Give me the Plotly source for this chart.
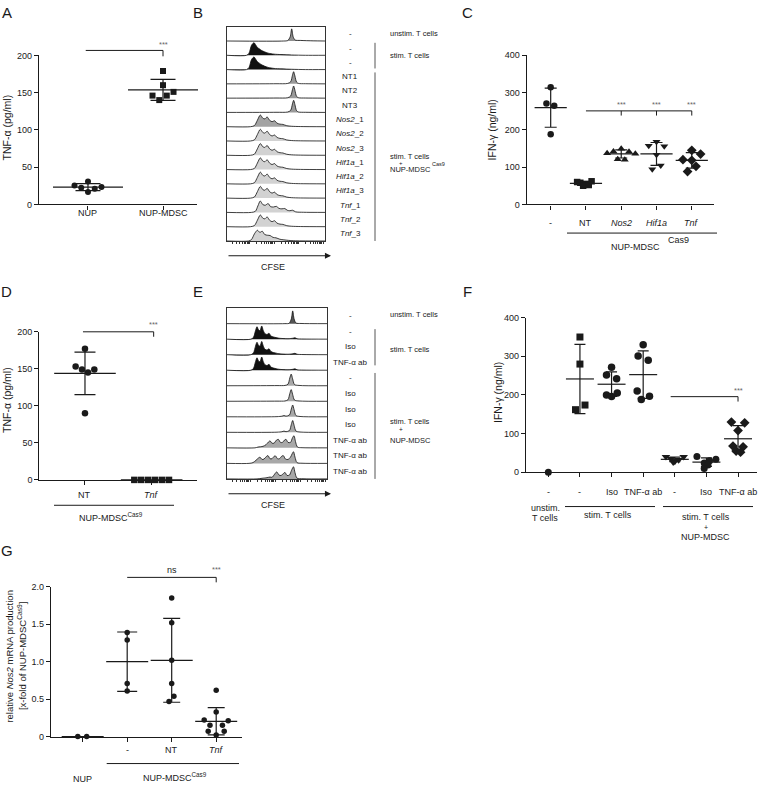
import numpy as np
import plotly.graph_objects as go

W, H = 760, 788
FONT = "Liberation Sans, Arial, Helvetica, sans-serif"
INK = "#1a1a1a"
STAR = "#666666"

# ============================ DATA ============================
# Panel A  TNF-alpha (pg/ml)
A_categories = ["NUP", "NUP-MDSC"]
A_nup = [25.5, 22.5, 30.8, 16.7, 21.0, 23.3]
A_nup_mdsc = [179, 160, 146, 140, 146, 151]
A_yticks = [0, 50, 100, 150, 200]

# Panel C  IFN-gamma (ng/ml)
C_categories = ["-", "NT", "<i>Nos2</i>", "<i>Hif1a</i>", "<i>Tnf</i>"]
C_ctrl = [314, 270, 264, 188]
C_nt = [62, 58, 55, 50, 52, 60]
C_nos2 = [149, 142, 141, 137, 136, 121, 120]
C_hif1a = [168, 157, 156, 133, 104, 94]
C_tnf = [145, 135, 120, 118, 102, 88]
C_yticks = [0, 100, 200, 300, 400]

# Panel D  TNF-alpha (pg/ml)
D_categories = ["NT", "<i>Tnf</i>"]
D_nt = [177, 153, 149, 145, 149, 90]
D_tnf = [0, 0, 0, 0, 0, 0]
D_yticks = [0, 50, 100, 150, 200]

# Panel F  IFN-gamma (ng/ml)
F_categories = ["-", "-", "Iso", "TNF-α ab", "-", "Iso", "TNF-α ab"]
F_unstim = [0]
F_stim = [350, 280, 174, 162]
F_stim_iso = [272, 252, 242, 200, 196, 205]
F_stim_tnfab = [330, 301, 290, 210, 188, 197]
F_mdsc = [40, 40, 35, 32, 28, 26]
F_mdsc_iso = [41, 34, 30, 24, 19, 10]
F_mdsc_tnfab = [130, 128, 108, 68, 66, 55, 52]
F_yticks = [0, 100, 200, 300, 400]

# Panel G  relative Nos2 mRNA
G_categories = ["", "-", "NT", "<i>Tnf</i>"]
G_nup = [0, 0]
G_ctrl = [1.39, 1.29, 0.71, 0.61]
G_nt = [1.85, 1.52, 1.02, 0.71, 0.54, 0.47]
G_tnf = [0.62, 0.33, 0.22, 0.21, 0.15, 0.15, 0.07, 0.07, 0.02]
G_yticks = [0, 0.5, 1.0, 1.5, 2.0]
G_yticktext = ["0", "0.5", "1.0", "1.5", "2.0"]

# Histogram profiles (CFSE position 0-100, relative count 0-1)
B_UNSTIM = [(0, 0), (58, 0), (62, 0.03), (64.5, 0.3), (66, 0.85), (67.5, 0.3), (69.5, 0.07), (75, 0.04), (88, 0.01), (100, 0)]
B_STIM = [(0, 0), (20, 0), (22.5, 0.15), (25, 0.7), (27.5, 0.88), (29.5, 0.7), (31, 0.55), (33, 0.45), (35, 0.35),
          (38, 0.25), (42, 0.15), (48, 0.08), (55, 0.05), (66, 0.02), (80, 0), (100, 0)]
B_NT = [(0, 0), (50, 0.01), (62, 0.03), (65, 0.15), (66.8, 0.6), (68, 0.85), (69.3, 0.55), (71, 0.12), (73, 0.03), (80, 0.01), (100, 0)]
B_MULTI = [(0, 0), (24, 0), (28, 0.08), (31, 0.45), (34, 0.82), (36.5, 0.6), (38.5, 0.55), (41, 0.68), (43.5, 0.45),
           (46, 0.35), (48.5, 0.42), (51, 0.25), (54, 0.18), (57, 0.16), (61, 0.07), (66, 0.03), (75, 0.01), (100, 0)]
B_TNF1 = [(0, 0), (25, 0), (29, 0.08), (31.5, 0.45), (34, 0.8), (36.5, 0.55), (39, 0.5), (42, 0.62), (44.5, 0.4),
          (47.5, 0.38), (50.5, 0.42), (53, 0.28), (56, 0.25), (59, 0.27), (61.5, 0.15), (64, 0.12), (67, 0.15),
          (70, 0.04), (78, 0.01), (100, 0)]
B_TNF3 = [(0, 0), (22, 0), (25, 0.1), (28, 0.5), (31, 0.75), (33.5, 0.6), (36, 0.68), (38.5, 0.45), (41.5, 0.4),
          (44, 0.38), (47, 0.25), (50, 0.22), (54, 0.12), (58, 0.08), (63, 0.04), (70, 0.01), (100, 0)]

B_row_labels = ["-", "-", "-", "NT1", "NT2", "NT3",
                "<i>Nos2</i>_1", "<i>Nos2</i>_2", "<i>Nos2</i>_3",
                "<i>Hif1a</i>_1", "<i>Hif1a</i>_2", "<i>Hif1a</i>_3",
                "<i>Tnf</i>_1", "<i>Tnf</i>_2", "<i>Tnf</i>_3"]
B_row_profiles = [B_UNSTIM, B_STIM, B_STIM, B_NT, B_NT, B_NT,
                  B_MULTI, B_MULTI, B_MULTI, B_MULTI, B_MULTI, B_MULTI,
                  B_TNF1, B_MULTI, B_TNF3]

E_UNSTIM = [(0, 0), (58, 0), (62, 0.02), (64.3, 0.3), (65.7, 0.82), (67.1, 0.3), (69, 0.04), (74, 0.01), (100, 0)]
E_STIM = [(0, 0), (24, 0), (26.5, 0.12), (28.5, 0.55), (30, 0.8), (31.5, 0.6), (33, 0.55), (34.7, 0.85), (36.3, 0.55),
          (38, 0.35), (40, 0.3), (42, 0.38), (44, 0.2), (46.5, 0.14), (49, 0.1), (52, 0.06), (56, 0.04), (61, 0.03),
          (66, 0.06), (68, 0.09), (70, 0.03), (76, 0.01), (100, 0)]
E_MDSC_A = [(0, 0), (50, 0.01), (58, 0.02), (61, 0.1), (62.8, 0.5), (64.2, 0.75), (65.6, 0.45), (67.5, 0.08), (72, 0.02), (100, 0)]
E_MDSC_B = [(0, 0), (50, 0.01), (55, 0.04), (57, 0.08), (59, 0.04), (62.5, 0.12), (64.3, 0.5), (65.7, 0.76), (67.1, 0.45),
            (69, 0.08), (73, 0.02), (100, 0)]
E_TNF1 = [(0, 0), (28, 0), (31, 0.05), (36, 0.1), (39, 0.2), (41.5, 0.38), (43, 0.45), (45, 0.3), (47, 0.3), (49.5, 0.5),
          (51.3, 0.55), (53.5, 0.35), (55.5, 0.35), (57.5, 0.5), (59, 0.55), (61, 0.35), (63.5, 0.35), (65.5, 0.65),
          (67, 0.78), (68.5, 0.4), (70.5, 0.05), (75, 0.01), (100, 0)]
E_TNF2 = [(0, 0), (22, 0), (26, 0.05), (29, 0.2), (31.5, 0.35), (33, 0.4), (35, 0.25), (37, 0.28), (39.5, 0.45), (41, 0.5),
          (43, 0.3), (45, 0.3), (47, 0.45), (48.5, 0.48), (50.5, 0.3), (52.5, 0.3), (54.5, 0.45), (56.3, 0.5),
          (58.5, 0.28), (61, 0.25), (63.5, 0.4), (65, 0.6), (66.5, 0.75), (68, 0.4), (70, 0.05), (75, 0.01), (100, 0)]
E_TNF3 = [(0, 0), (30, 0), (35, 0.04), (40, 0.08), (43, 0.12), (45, 0.1), (47, 0.25), (49.7, 0.45), (52, 0.25), (54, 0.22),
          (56.5, 0.35), (58, 0.42), (60, 0.22), (62.5, 0.25), (64.5, 0.55), (66.5, 0.78), (68, 0.4), (70, 0.05),
          (76, 0.01), (100, 0)]

E_row_labels = ["-", "-", "Iso", "TNF-α ab", "-", "Iso", "Iso", "Iso", "TNF-α ab", "TNF-α ab", "TNF-α ab"]
E_row_profiles = [E_UNSTIM, E_STIM, E_STIM, E_STIM, E_MDSC_A, E_MDSC_A, E_MDSC_B, E_MDSC_B, E_TNF1, E_TNF2, E_TNF3]

# ============================ STYLE / LAYOUT ============================
B_fills = ["#8f8f8f", "#111111", "#111111", "#9a9a9a", "#9a9a9a", "#9a9a9a",
           "#a3a3a3", "#d2d2d2", "#d2d2d2", "#d2d2d2", "#d2d2d2", "#d2d2d2", "#d2d2d2", "#d2d2d2", "#d2d2d2"]
E_fills = ["#555555", "#111111", "#111111", "#111111", "#a8a8a8", "#a8a8a8", "#a8a8a8", "#a8a8a8",
           "#a8a8a8", "#a8a8a8", "#a8a8a8"]


def fx(p):
    return p / W


def fy(p):
    return 1 - p / H


PANELS = {
    "A": dict(n=1, x=(39, 197), y=(51, 202), xr=(-0.653, 1.453), yr=(0, 200), cats=A_categories,
              yt=A_yticks, ytt=[str(v) for v in A_yticks], laby=210.5),
    "C": dict(n=2, x=(526.7, 714), y=(50.7, 202), xr=(-0.68, 4.63), yr=(0, 400), cats=C_categories,
              yt=C_yticks, ytt=[str(v) for v in C_yticks], laby=220.7),
    "D": dict(n=3, x=(39.3, 197), y=(331, 481), xr=(-0.685, 1.68), yr=(0, 200), cats=D_categories,
              yt=D_yticks, ytt=[str(v) for v in D_yticks], laby=496.7),
    "F": dict(n=4, x=(526, 757), y=(316.7, 473.3), xr=(-0.706, 6.6), yr=(0, 400), cats=F_categories,
              yt=F_yticks, ytt=[str(v) for v in F_yticks], laby=493),
    "G": dict(n=5, x=(51, 241.7), y=(589.3, 741), xr=(-0.712, 3.573), yr=(0, 2.0), cats=G_categories,
              yt=G_yticks, ytt=G_yticktext, laby=755),
}
HIST = {
    "B": dict(n=6, x=(227, 325), y=(22, 239), labels=B_row_labels, profiles=B_row_profiles, fills=B_fills),
    "E": dict(n=7, x=(227, 327), y=(307, 480), labels=E_row_labels, profiles=E_row_profiles, fills=E_fills),
}


def ids(n):
    if n == 1:
        return "x", "y", "xaxis", "yaxis"
    return f"x{n}", f"y{n}", f"xaxis{n}", f"yaxis{n}"


def dx(P, v):
    x0, x1 = P["x"]
    r0, r1 = P["xr"]
    return fx(x0 + (v - r0) / (r1 - r0) * (x1 - x0))


def dy(P, v):
    t, b = P["y"]
    r0, r1 = P["yr"]
    return fy(b - (v - r0) / (r1 - r0) * (b - t))


fig = go.Figure()
axes = {}
shapes = []
annotations = []


def text(xp, yp, s, size=9, xanchor="center", color=INK, angle=0):
    annotations.append(dict(x=xp, y=yp, xref="paper", yref="paper", text=s, showarrow=False,
                            xanchor=xanchor, yanchor="middle", textangle=angle,
                            font=dict(family=FONT, size=size, color=color)))


def pline(x0, y0, x1, y1, w=1.0, color=INK):
    shapes.append(dict(type="line", xref="paper", yref="paper", x0=x0, y0=y0, x1=x1, y1=y1,
                       line=dict(color=color, width=w)))


# ---- dot-plot axes ----
for key, P in PANELS.items():
    xid, yid, xk, yk = ids(P["n"])
    axes[xk] = dict(domain=[fx(P["x"][0]), fx(P["x"][1])], range=list(P["xr"]), anchor=yid,
                    showline=True, linecolor=INK, linewidth=1.2, ticks="outside", ticklen=4, tickwidth=1.1,
                    tickcolor=INK, tickvals=list(range(len(P["cats"]))), showticklabels=False,
                    showgrid=False, zeroline=False, fixedrange=True)
    axes[yk] = dict(domain=[fy(P["y"][1]), fy(P["y"][0])], range=list(P["yr"]), anchor=xid,
                    showline=True, linecolor=INK, linewidth=1.2, ticks="outside", ticklen=4, tickwidth=1.1,
                    tickcolor=INK, tickvals=P["yt"], ticktext=P["ytt"],
                    tickfont=dict(family=FONT, size=9, color=INK),
                    showgrid=False, zeroline=False, fixedrange=True)
    for i, lab in enumerate(P["cats"]):
        if lab:
            annotations.append(dict(x=i, y=fy(P["laby"]), xref=xid, yref="paper", text=lab, showarrow=False,
                                    xanchor="center", yanchor="middle",
                                    font=dict(family=FONT, size=9, color=INK)))


def add_group(P, cat, values, offsets, symbol, size, mean_w, cap_w):
    xid, yid, _, _ = ids(P["n"])
    vals = np.asarray(values, dtype=float)
    if len(vals) > 1:
        m = float(vals.mean())
        s = float(vals.std(ddof=1))
        fig.add_trace(go.Scatter(
            x=[cat], y=[m], mode="markers", xaxis=xid, yaxis=yid, cliponaxis=False, hoverinfo="skip",
            marker=dict(symbol="line-ew", size=mean_w, color=INK, line=dict(width=1.2, color=INK)),
            error_y=dict(type="data", array=[s], visible=s > 0, width=cap_w / 2, thickness=1.2, color=INK)))
    fig.add_trace(go.Scatter(
        x=[cat + o for o in offsets], y=vals, mode="markers", xaxis=xid, yaxis=yid, cliponaxis=False,
        marker=dict(symbol=symbol, size=size, color=INK, line=dict(width=0))))


PA, PC, PD, PF, PG = (PANELS[k] for k in "ACDFG")

# Panel A
add_group(PA, 0, A_nup, [-0.18, -0.09, 0, 0, 0.09, 0.18], "circle", 6, 50, 25)
add_group(PA, 1, A_nup_mdsc, [0, 0, -0.14, -0.05, 0.05, 0.14], "square", 6, 50, 25)
# Panel C
add_group(PC, 0, C_ctrl, [0, -0.12, 0.1, 0], "circle", 6.5, 23, 12)
add_group(PC, 1, C_nt, [0.16, -0.16, 0.0, -0.08, 0.08, -0.25], "square", 6.5, 23, 12)
add_group(PC, 2, C_nos2, [0, -0.22, 0.22, -0.4, 0.4, -0.1, 0.1], "triangle-up", 7, 23, 12)
add_group(PC, 3, C_hif1a, [0, -0.22, 0.22, 0, 0.12, -0.12], "triangle-down", 7, 23, 12)
add_group(PC, 4, C_tnf, [0, 0.25, -0.25, 0, 0.12, -0.12], "diamond", 7.5, 23, 12)
# Panel D
add_group(PD, 0, D_nt, [0, -0.14, -0.045, 0.045, 0.14, 0], "circle", 6.5, 44, 21)
add_group(PD, 1, D_tnf, [-0.26, -0.157, -0.052, 0.052, 0.157, 0.26], "square", 6.5, 44, 21)
# Panel F
add_group(PF, 0, F_unstim, [0], "circle", 7, 20, 11)
add_group(PF, 1, F_stim, [0, 0, 0.16, -0.14], "square", 7, 20, 11)
add_group(PF, 2, F_stim_iso, [0, -0.16, 0.16, -0.16, 0, 0.18], "circle", 7.5, 20, 11)
add_group(PF, 3, F_stim_tnfab, [0, -0.16, 0.16, -0.19, -0.06, 0.2], "circle", 7.5, 20, 11)
add_group(PF, 4, F_mdsc, [-0.28, 0.28, -0.12, 0.12, 0, -0.05], "triangle-down", 7.5, 20, 11)
add_group(PF, 5, F_mdsc_iso, [-0.3, 0.3, 0.1, -0.07, 0.05, -0.07], "circle", 7, 20, 11)
add_group(PF, 6, F_mdsc_tnfab, [-0.21, 0.21, 0, -0.16, 0.16, -0.06, 0.08], "diamond", 7.5, 20, 11)
# Panel G
add_group(PG, 0, G_nup, [-0.11, 0.09], "circle", 5.5, 30, 20)
add_group(PG, 1, G_ctrl, [0, 0, 0, 0], "circle", 5.5, 30, 20)
add_group(PG, 2, G_nt, [0, 0, 0, 0, 0.05, -0.06], "circle", 5.5, 30, 17)
add_group(PG, 3, G_tnf, [0, 0, -0.27, 0.27, -0.14, 0.14, -0.18, 0.18, 0], "circle", 5.5, 30, 17)


# ---- significance brackets ----
def bracket(P, xa, xb, yv, drops, ybot, stars, ystar):
    pline(dx(P, xa), dy(P, yv), dx(P, xb), dy(P, yv), 1.0)
    for d in drops:
        pline(dx(P, d), dy(P, yv), dx(P, d), dy(P, ybot), 1.0)
    for xs, s in stars:
        col = INK if s == "ns" else STAR
        size = 9 if s == "ns" else 7.5
        text(dx(P, xs), dy(P, ystar), s, size=size, color=col)


bracket(PA, -0.03, 1.0, 206.6, [1.0], 198.7, [(1.0, "***")], 215)
bracket(PC, 1.0, 4.0, 250.5, [2.0, 3.0, 4.0], 238, [(2.0, "***"), (3.0, "***"), (4.0, "***")], 268)
bracket(PD, -0.03, 1.03, 200, [1.03], 193.3, [(1.03, "***")], 209.5)
bracket(PF, 3.87, 6.0, 195.7, [6.0], 183, [(6.0, "***")], 212)
bracket(PG, 1.0, 3.0, 2.126, [3.0], 2.06, [(2.0, "ns"), (3.0, "***")], 2.225)

# ---- histogram panels ----
hist_ticks = []
for d in [-2, 23, 48, 73, 98]:
    for k in range(1, 10):
        t = d + 25 * np.log10(k)
        if 0.5 <= t <= 99.5:
            hist_ticks.append(float(t))

for key, Hh in HIST.items():
    xid, yid, xk, yk = ids(Hh["n"])
    nrows = len(Hh["labels"])
    axes[xk] = dict(domain=[fx(Hh["x"][0]), fx(Hh["x"][1])], range=[0, 100], anchor=yid,
                    showline=True, mirror=True, linecolor="#333333", linewidth=1.0,
                    ticks="outside", ticklen=2.5, tickwidth=0.8, tickcolor="#333333", tickvals=hist_ticks,
                    showticklabels=False, showgrid=False, zeroline=False, fixedrange=True)
    axes[yk] = dict(domain=[fy(Hh["y"][1]), fy(Hh["y"][0])], range=[0, nrows], anchor=xid,
                    showline=True, mirror=True, linecolor="#333333", linewidth=1.0,
                    ticks="", showticklabels=False, showgrid=False, zeroline=False, fixedrange=True)
    rowh = (Hh["y"][1] - Hh["y"][0]) / nrows
    for i, (lab, prof, fill) in enumerate(zip(Hh["labels"], Hh["profiles"], Hh["fills"])):
        base = nrows - 1 - i
        fig.add_trace(go.Scatter(
            x=[p[0] for p in prof], y=[base + p[1] for p in prof], xaxis=xid, yaxis=yid,
            mode="lines", fill="toself", fillcolor=fill, hoverinfo="skip",
            line=dict(color="#111111", width=0.8, shape="spline", smoothing=0.8)))
        text(fx(350), fy(Hh["y"][0] + rowh * (i + 0.5)), lab, size=8)

# CFSE arrows
for ya, yt in [(254, 265.5), (495, 506)]:
    annotations.append(dict(x=fx(331), y=fy(ya), xref="paper", yref="paper", text="", showarrow=True,
                            ax=-104, ay=0, arrowhead=2, arrowsize=1.1, arrowwidth=1.1, arrowcolor=INK))
    text(fx(273), fy(yt), "CFSE", size=9)

# B right-hand group labels
text(fx(388), fy(29), "unstim. T cells", size=7.5, xanchor="left")
text(fx(388), fy(51.5), "stim. T cells", size=7.5, xanchor="left")
pline(fx(375), fy(38.3), fx(375), fy(64.3), 1.0, "#555555")
pline(fx(375), fy(68.3), fx(375), fy(239), 1.0, "#555555")
text(fx(388), fy(153.5), "stim. T cells", size=7.5, xanchor="left")
text(fx(401), fy(160), "+", size=6)
text(fx(388), fy(166.5), "NUP-MDSC", size=7.5, xanchor="left")
text(fx(429.5), fy(161), "Cas9", size=5.5, xanchor="left")

# E right-hand group labels
text(fx(388), fy(313), "unstim. T cells", size=7.5, xanchor="left")
text(fx(388), fy(349), "stim. T cells", size=7.5, xanchor="left")
pline(fx(375), fy(328.3), fx(375), fy(365), 1.0, "#555555")
pline(fx(375), fy(372.7), fx(375), fy(480), 1.0, "#555555")
text(fx(388), fy(421.7), "stim. T cells", size=7.5, xanchor="left")
text(fx(401), fy(430), "+", size=6.5)
text(fx(388), fy(441.5), "NUP-MDSC", size=7.5, xanchor="left")

# group annotations under dot plots
pline(fx(567), fy(231), fx(717), fy(231), 1.0)
text(fx(635.5), fy(245), "NUP-MDSC", size=9)
text(fx(678), fy(238), "Cas9", size=9)

pline(fx(54), fy(506.7), fx(174), fy(506.7), 1.0)
text(fx(111), fy(519), "NUP-MDSC<sup>Cas9</sup>", size=9)

pline(fx(565), fy(508), fx(655), fy(508), 1.0)
pline(fx(663), fy(508), fx(753), fy(508), 1.0)
text(fx(545), fy(509), "unstim.", size=9)
text(fx(545), fy(519.5), "T cells", size=9)
text(fx(608), fy(517), "stim. T cells", size=9)
text(fx(705.5), fy(519), "stim. T cells", size=9)
text(fx(705.5), fy(529), "+", size=7)
text(fx(705.5), fy(538.5), "NUP-MDSC", size=9)

pline(fx(106.7), fy(768.3), fx(239), fy(768.3), 1.0)
text(fx(82.7), fy(784), "NUP", size=9)
text(fx(175), fy(782), "NUP-MDSC<sup>Cas9</sup>", size=9)

# axis titles
text(fx(7), fy(124), "TNF-α (pg/ml)", size=10.5, angle=-90)
text(fx(492), fy(127), "IFN-γ (ng/ml)", size=10.5, angle=-90)
text(fx(7), fy(400), "TNF-α (pg/ml)", size=10.5, angle=-90)
text(fx(498), fy(393), "IFN-γ (ng/ml)", size=10.5, angle=-90)
text(fx(10), fy(660), "relative <i>Nos2</i> mRNA production", size=9.5, angle=-90)
text(fx(21.5), fy(660), "[x-fold of NUP-MDSC<sup>Cas9</sup>]", size=9.5, angle=-90)

# panel letters
for letter, xp, yp in [("A", 7, 8), ("B", 198, 8), ("C", 467, 8), ("D", 7, 290), ("E", 198, 290),
                       ("F", 467, 290), ("G", 7, 553)]:
    text(fx(xp), fy(yp), letter, size=15)

fig.update_layout(
    width=W, height=H, margin=dict(l=0, r=0, t=0, b=0),
    paper_bgcolor="white", plot_bgcolor="white", showlegend=False,
    font=dict(family=FONT, color=INK), shapes=shapes, annotations=annotations, **axes)

fig.write_html("out.html", config={"displayModeBar": False},
               post_script="document.body.style.margin='0px';")
